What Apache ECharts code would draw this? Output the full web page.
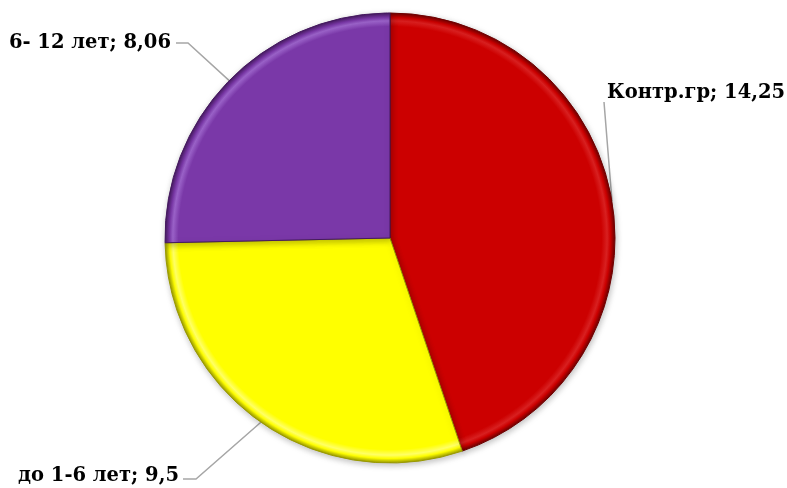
<!DOCTYPE html>
<html>
<head>
<meta charset="utf-8">
<script src="https://cdn.jsdelivr.net/npm/echarts@6/dist/echarts.min.js"></script>
<style>
  html, body { margin: 0; padding: 0; background: #fff; }
  #chart { width: 787px; height: 488px; }
</style>
</head>
<body>
<div id="chart"></div>
<script>
// Group names and their values, clockwise from the top
var categories = ['Контр.гр', 'до 1-6 лет', '6- 12 лет'];
var values = [14.25, 9.5, 8.06];
var baseColors = ['#CC0000', '#FFFF00', '#7A38A8'];
var rimLight = ['#D82020', '#FFFF66', '#9A62C8'];
var rimDark = ['#6E0000', '#9A9A00', '#45195F'];

var CX = 390, CY = 238, R = 225;

// Radial fill that gives each slice a bevelled outer rim
function bevel(i) {
  return {
    type: 'radial', x: CX, y: CY, r: R, global: true,
    colorStops: [
      { offset: 0, color: baseColors[i] },
      { offset: 0.94, color: baseColors[i] },
      { offset: 0.965, color: rimLight[i] },
      { offset: 0.98, color: baseColors[i] },
      { offset: 1, color: rimDark[i] }
    ]
  };
}

var data = categories.map(function (name, i) {
  return {
    name: name,
    value: values[i],
    itemStyle: { color: bevel(i), borderColor: rimDark[i], borderWidth: 1 }
  };
});

// Label anchors and the elbow of each leader line
var labelSpots = [
  { x: 607, y: 93, align: 'left', elbow: null, end: [604, 102] },
  { x: 179, y: 476, align: 'right', elbow: [196, 479], end: [183, 479] },
  { x: 171, y: 43, align: 'right', elbow: [188, 43], end: [176, 43] }
];

var chart = echarts.init(document.getElementById('chart'), null, { renderer: 'canvas' });
chart.setOption({
  animation: false,
  series: [{
    type: 'pie',
    center: [CX, CY],
    radius: [0, R],
    startAngle: 90,
    clockwise: true,
    data: data,
    label: {
      show: true,
      position: 'outside',
      fontFamily: 'DejaVu Serif',
      fontWeight: 'bold',
      fontSize: 19.5,
      color: '#000',
      overflow: 'none',
      formatter: function (p) {
        return p.name + '; ' + String(p.value).replace('.', ',');
      }
    },
    labelLine: {
      show: true,
      lineStyle: { color: '#A6A6A6', width: 1.5 }
    },
    labelLayout: function (p) {
      var s = labelSpots[p.dataIndex];
      var start = p.labelLinePoints[0];
      var elbow = s.elbow || [(start[0] + s.end[0]) / 2, (start[1] + s.end[1]) / 2];
      return {
        x: s.x,
        y: s.y,
        align: s.align,
        verticalAlign: 'middle',
        labelLinePoints: [start, elbow, s.end]
      };
    },
    itemStyle: {
      shadowBlur: 6,
      shadowColor: 'rgba(0,0,0,0.25)',
      shadowOffsetX: 1,
      shadowOffsetY: 2
    }
  }]
});
</script>
</body>
</html>
